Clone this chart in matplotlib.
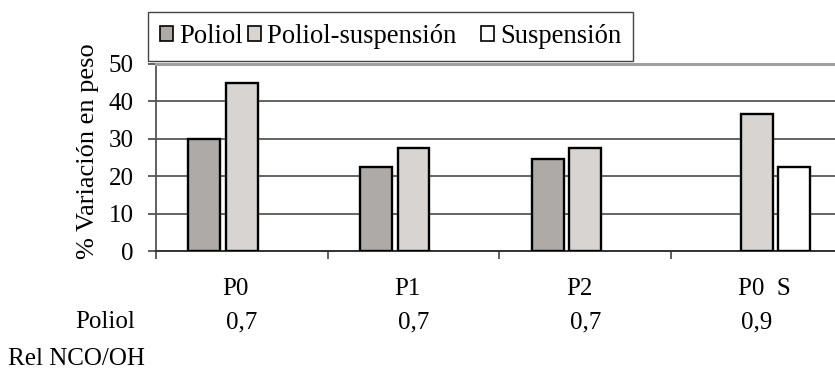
import matplotlib.pyplot as plt
import matplotlib.transforms as mtransforms
import numpy as np

# values
categories = ['P0', 'P1', 'P2', 'P0  S']
ratios = ['0,7', '0,7', '0,7', '0,9']
poliol = [30, 22.5, 24.5, np.nan]
poliol_susp = [45, 27.5, 27.5, 36.5]
suspension = [np.nan, np.nan, np.nan, 22.5]
yticks = [0, 10, 20, 30, 40, 50]

plt.rcParams['font.family'] = ['Liberation Serif', 'DejaVu Serif']

W, H = 835, 369
fig = plt.figure(figsize=(W / 100, H / 100), dpi=100)
ax = fig.add_axes([155.7 / W, 1 - 251 / H, (843 - 155.7) / W, (251 - 64) / H])

x = np.arange(len(categories)) + 0.5
bw = 0.185
off = 0.217
ax.bar(x - off, poliol, bw, color='#aeaaa7', edgecolor='black', linewidth=1.7,
       label='Poliol', zorder=3)
ax.bar(x, poliol_susp, bw, color='#d8d4d1', edgecolor='black', linewidth=1.7,
       label='Poliol-suspensión   ', zorder=3)
ax.bar(x + off, suspension, bw, color='white', edgecolor='black', linewidth=1.7,
       label='Suspensión', zorder=3)

ax.set_xlim(0, len(categories))
ax.set_ylim(0, 50)
ax.set_yticks(yticks)
ax.set_xticks(np.arange(len(categories) + 1))
ax.set_xticklabels([])
ax.tick_params(axis='y', length=6, width=1.2, color='#444444', pad=10, labelsize=18)
ax.tick_params(axis='x', length=6, width=1.2, color='#444444')

ax.set_axisbelow(True)
ax.yaxis.grid(True, color='#3a3a3a', linewidth=1.1)
ax.spines['right'].set_visible(False)
ax.spines['top'].set_color('#a0a0a0')
ax.spines['top'].set_linewidth(2.2)
ax.spines['left'].set_color('#555555')
ax.spines['left'].set_linewidth(1.3)
ax.spines['bottom'].set_color('#333333')
ax.spines['bottom'].set_linewidth(1.4)

# category names and NCO/OH ratios under the axis
trans = mtransforms.blended_transform_factory(ax.transData, fig.transFigure)
for i, (c, r) in enumerate(zip(categories, ratios)):
    ax.text(i + 0.39, 1 - 295 / H, c, transform=trans,
            fontsize=18, ha='left', va='baseline')
    ax.text(i + 0.5, 1 - 328 / H, r, transform=trans,
            fontsize=18, ha='center', va='baseline')

fig.text(105 / W, 1 - 328 / H, 'Poliol', fontsize=18, ha='center', va='baseline')
fig.text(8 / W, 1 - 365 / H, 'Rel NCO/OH', fontsize=18, ha='left', va='baseline')

fig.text(88 / W, 1 - 151 / H, '% Variación en peso', fontsize=19, rotation=90,
         ha='center', va='center')

leg = fig.legend(loc='upper left', bbox_to_anchor=(148 / W, 1 - 12 / H),
                 bbox_transform=fig.transFigure, ncol=3, fontsize=19.2,
                 handlelength=0.5, handleheight=0.5, handletextpad=0.22,
                 columnspacing=0.18, borderpad=0.45, borderaxespad=0,
                 fancybox=False, framealpha=1)
leg.get_frame().set_edgecolor('#444444')
leg.get_frame().set_linewidth(1.0)
for p in leg.get_patches():
    p.set_linewidth(1.2)

fig.savefig('out.png', dpi=100)
